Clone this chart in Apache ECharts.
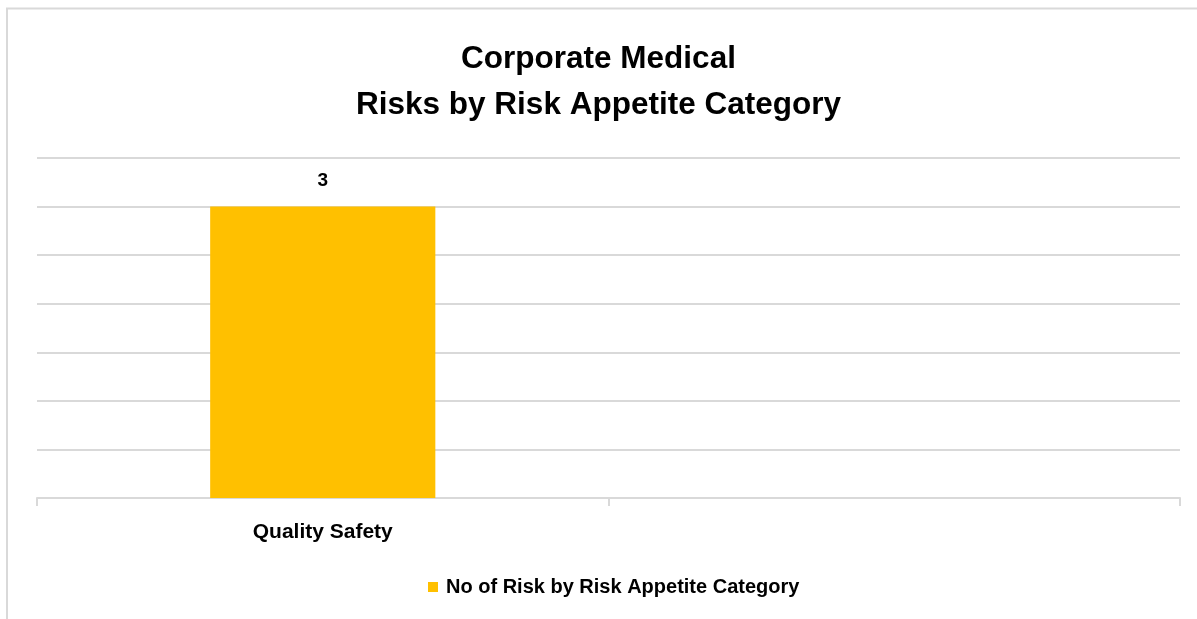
<!DOCTYPE html>
<html>
<head>
<meta charset="utf-8">
<script src="https://cdn.jsdelivr.net/npm/echarts@6/dist/echarts.min.js"></script>
<style>
  html, body { margin: 0; padding: 0; background: #fff; }
  #chart { width: 1197px; height: 619px; }
</style>
</head>
<body>
<div id="chart"></div>
<script>
// Chart data
const categories = ['Quality Safety', ''];
const riskCounts = [3, null];
const seriesName = 'No of Risk by Risk Appetite Category';
const titleLines = ['Corporate Medical', 'Risks by Risk Appetite Category'];

const FONT = '"Liberation Sans", Arial, sans-serif';
const GRID_COLOR = '#d9d9d9';

const chart = echarts.init(document.getElementById('chart'), null, { renderer: 'canvas' });

chart.setOption({
  backgroundColor: '#ffffff',
  animation: false,
  title: {
    text: titleLines.join('\n'),
    left: 'center',
    top: 31,
    textStyle: {
      fontFamily: FONT,
      fontWeight: 'bold',
      fontSize: 31.5,
      lineHeight: 46,
      color: '#000'
    }
  },
  legend: {
    bottom: 17,
    left: 423,
    itemWidth: 10,
    itemHeight: 10,
    icon: 'rect',
    itemGap: 8,
    textStyle: {
      fontFamily: FONT,
      fontWeight: 'bold',
      fontSize: 20,
      color: '#000',
      padding: [0, 0, 0, 3]
    },
    data: [seriesName]
  },
  grid: {
    left: 37,
    right: 17,
    top: 158,
    bottom: 121,
    containLabel: false
  },
  xAxis: {
    type: 'category',
    data: categories,
    axisLine: { lineStyle: { color: GRID_COLOR, width: 2 } },
    axisTick: { show: true, length: 8, lineStyle: { color: GRID_COLOR, width: 2 } },
    axisLabel: {
      margin: 24,
      fontFamily: FONT,
      fontWeight: 'bold',
      fontSize: 21,
      color: '#000'
    }
  },
  yAxis: {
    type: 'value',
    min: 0,
    max: 3.5,
    interval: 0.5,
    axisLabel: { show: false },
    axisLine: { show: false },
    axisTick: { show: false },
    splitLine: { lineStyle: { color: GRID_COLOR, width: 2 } }
  },
  series: [{
    name: seriesName,
    type: 'bar',
    data: riskCounts,
    barWidth: '39.4%',
    itemStyle: { color: '#FFC000' },
    label: {
      show: true,
      position: 'top',
      distance: 16,
      fontFamily: FONT,
      fontWeight: 'bold',
      fontSize: 19,
      color: '#000'
    }
  }],
  graphic: [{
    type: 'rect',
    silent: true,
    shape: { x: 7, y: 8.5, width: 1400, height: 800 },
    style: { fill: 'none', stroke: GRID_COLOR, lineWidth: 2 }
  }]
});
</script>
</body>
</html>
